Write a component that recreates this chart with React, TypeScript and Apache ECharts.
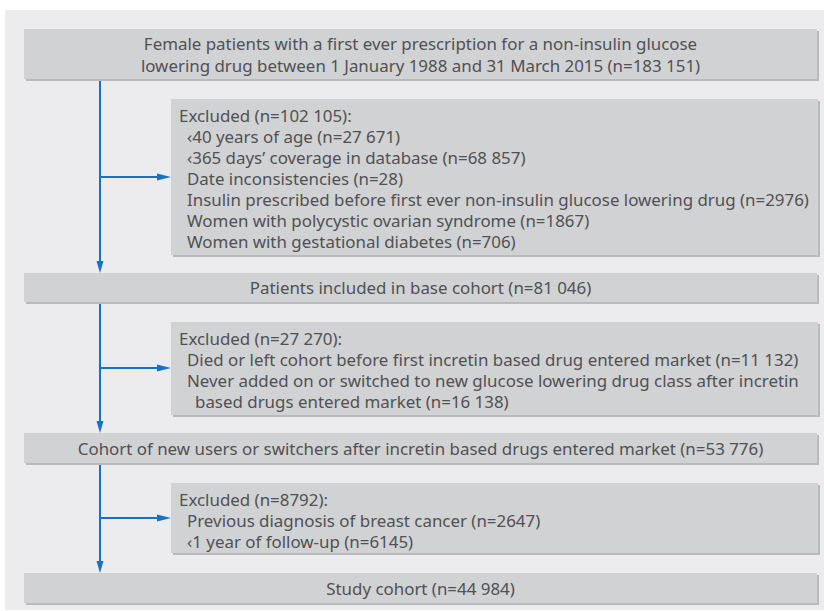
import React, { useEffect, useRef } from "react";
import * as echarts from "echarts";

// Flow chart content
const mainBoxes: string[][] = [
  [
    "Female patients with a first ever prescription for a non-insulin glucose",
    "lowering drug between 1 January 1988 and 31 March 2015 (n=183 151)",
  ],
  ["Patients included in base cohort (n=81 046)"],
  ["Cohort of new users or switchers after incretin based drugs entered market (n=53 776)"],
  ["Study cohort (n=44 984)"],
];

const excludedHeaders: string[] = [
  "Excluded (n=102 105):",
  "Excluded (n=27 270):",
  "Excluded (n=8792):",
];

const excludedItems: string[][] = [
  [
    "\u203940 years of age (n=27 671)",
    "\u2039365 days\u2019 coverage in database (n=68 857)",
    "Date inconsistencies (n=28)",
    "Insulin prescribed before first ever non-insulin glucose lowering drug (n=2976)",
    "Women with polycystic ovarian syndrome (n=1867)",
    "Women with gestational diabetes (n=706)",
  ],
  [
    "Died or left cohort before first incretin based drug entered market (n=11 132)",
    "Never added on or switched to new glucose lowering drug class after incretin",
    " based drugs entered market (n=16 138)",
  ],
  [
    "Previous diagnosis of breast cancer (n=2647)",
    "\u20391 year of follow-up (n=6145)",
  ],
];

// Layout (pixels)
const mainY: [number, number][] = [
  [29, 79],
  [273, 302],
  [433, 463],
  [573, 603],
];
const exclY: [number, number][] = [
  [99, 255],
  [322, 415],
  [483, 553],
];
const arrowY = [177, 368, 518];

export default function App() {
  const ref = useRef<HTMLDivElement>(null);
  useEffect(() => {
    if (!ref.current) return;
    const chart = echarts.init(ref.current, undefined, { renderer: "svg" });
    const FONT = "16.9px 'Noto Sans'";
    const TEXT = "#505153";
    const BOX = "#d1d2d4";
    const SHADOW = "#b9babc";
    const BLUE = "#1672c2";
    const left = 24;
    const right = 817;
    const exLeft = 171;
    const lineX = 100;
    const lh = 21;

    const els: any[] = [];
    els.push({ type: "rect", shape: { x: 5, y: 10, width: 819, height: 600 }, style: { fill: "#ececee" } });

    const box = (x1: number, y1: number, x2: number, y2: number) => {
      els.push({ type: "rect", shape: { x: x1 + 2, y: y1 + 2, width: x2 - x1, height: y2 - y1 }, style: { fill: SHADOW } });
      els.push({ type: "rect", shape: { x: x1, y: y1, width: x2 - x1, height: y2 - y1 }, style: { fill: BOX } });
    };

    // connectors
    const lineStyle = { stroke: BLUE, lineWidth: 2 };
    for (let i = 0; i < 3; i++) {
      const top = mainY[i][1];
      const bottom = mainY[i + 1][0];
      els.push({ type: "line", shape: { x1: lineX, y1: top, x2: lineX, y2: bottom - 10 }, style: lineStyle });
      els.push({
        type: "polygon",
        shape: { points: [[lineX - 3.5, bottom - 12], [lineX + 3.5, bottom - 12], [lineX, bottom]] },
        style: { fill: BLUE },
      });
      const ay = arrowY[i];
      els.push({ type: "line", shape: { x1: lineX, y1: ay, x2: exLeft - 10, y2: ay }, style: lineStyle });
      els.push({
        type: "polygon",
        shape: { points: [[exLeft - 14, ay - 3.5], [exLeft - 14, ay + 3.5], [exLeft, ay]] },
        style: { fill: BLUE },
      });
    }

    mainBoxes.forEach((lines, i) => {
      const [y1, y2] = mainY[i];
      box(left, y1, right, y2);
      const cy = (y1 + y2) / 2;
      const n = lines.length;
      lines.forEach((t, j) => {
        els.push({
          type: "text",
          x: (left + right) / 2,
          y: cy + (j - (n - 1) / 2) * 22,
          style: { text: t, font: FONT, fill: TEXT, textAlign: "center", textVerticalAlign: "middle", verticalAlign: "middle" },
        });
      });
    });

    excludedHeaders.forEach((h, i) => {
      const [y1, y2] = exclY[i];
      box(exLeft, y1, right + 1, y2);
      const y0 = y1 + 16;
      els.push({
        type: "text",
        x: exLeft + 8,
        y: y0,
        style: { text: h, font: FONT, fill: TEXT, textAlign: "left", textVerticalAlign: "middle", verticalAlign: "middle" },
      });
      excludedItems[i].forEach((t, j) => {
        const indent = t.startsWith(" ") ? 8 : 0;
        els.push({
          type: "text",
          x: exLeft + 16 + indent,
          y: y0 + (j + 1) * lh,
          style: { text: t.trim(), font: FONT, fill: TEXT, textAlign: "left", textVerticalAlign: "middle", verticalAlign: "middle" },
        });
      });
    });

    chart.setOption({ animation: false, graphic: { elements: els } });
    return () => chart.dispose();
  }, []);
  return <div ref={ref} style={{ position: "fixed", left: 0, top: 0, width: 824, height: 611, background: "#fff" }} />;
}
